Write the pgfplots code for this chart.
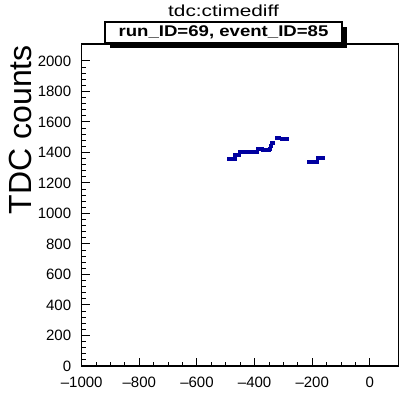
\documentclass[border=0pt]{standalone}
\usepackage{pgfplots}
\pgfplotsset{compat=1.18}
\usepackage{fontspec}
\setmainfont{Liberation Sans}
\newfontfamily\titlefont[FakeStretch=1.3]{Liberation Sans}
\newfontfamily\boxfont[FakeStretch=1.2]{Liberation Sans Bold}
\definecolor{pts}{RGB}{0,0,160}
\begin{document}
\begin{tikzpicture}
\path[use as bounding box] (-81.7pt,-28pt) rectangle (318.3pt,366pt);
\begin{axis}[name=ax, at={(0,0)}, anchor=south west, scale only axis,
  width=317pt, height=322pt,
  xmin=-1000, xmax=100, ymin=0, ymax=2111,
  axis line style={line width=1.6pt},
  xtick={-1000,-800,...,0}, xticklabels={--1000,--800,--600,--400,--200,0},
  minor x tick num=3,
  ytick={0,200,...,2000}, minor y tick num=4,
  tick align=inside, xtick pos=bottom, ytick pos=left,
  major tick length=8pt, minor tick length=4pt,
  every tick/.style={black, line width=1pt},
  tick label style={font=\fontsize{15}{18}\selectfont},
  yticklabel style={anchor=east, xshift=-7pt},
  xticklabel style={yshift=-7pt},
  scaled ticks=false,
  /pgf/number format/assume math mode=true, /pgf/number format/1000 sep={},
]
\addplot[only marks, mark=square*, mark size=1.6pt, color=pts] coordinates {
(-488,1360) (-482,1360) (-476,1360) (-471,1360)
(-468,1385) (-462,1385) (-456,1385)
(-452,1403) (-446,1403) (-440,1403) (-434,1403) (-428,1403) (-422,1403)
(-416,1403) (-410,1403) (-404,1403) (-398,1403) (-393,1403)
(-389,1422) (-383,1422) (-377,1422) (-371,1420) (-365,1418) (-359,1418)
(-353,1420) (-348,1422)
(-343,1445) (-339,1465)
(-323,1495) (-318,1495)
(-307,1492) (-301,1492) (-295,1492) (-290,1492)
(-213,1340) (-206,1340) (-199,1340) (-192,1340) (-186,1340)
(-182,1366) (-176,1366) (-170,1366) (-165,1366)
};
\end{axis}
\node[rotate=90, anchor=base east, inner sep=0pt, font=\fontsize{32}{36}\selectfont] at (-50pt,321pt) {TDC counts};
\fill[black] (28.3pt,318pt) rectangle (265.3pt,339pt);
\draw[line width=1.2pt, fill=white] (23.3pt,323pt) rectangle (260.3pt,344pt);
\node[anchor=base, inner sep=0pt, font=\boxfont\fontsize{15.5}{18}\selectfont] at (141.8pt,329.5pt) {run\_ID=69, event\_ID=85};
\node[anchor=base, inner sep=0pt, font=\titlefont\fontsize{16}{18}\selectfont] at (141.8pt,349pt) {tdc:ctimediff};
\end{tikzpicture}
\end{document}
